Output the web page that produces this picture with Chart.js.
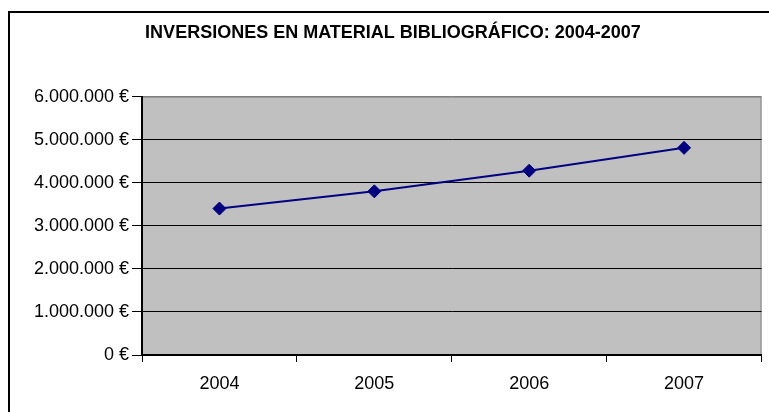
<!DOCTYPE html>
<html>
<head>
<meta charset="utf-8">
<script src="https://cdn.jsdelivr.net/npm/chart.js@4.4.1/dist/chart.umd.min.js"></script>
<style>
    html, body { margin: 0; padding: 0; background: #fff; overflow: hidden; }
    #frame { position: absolute; left: 8px; top: 11px; width: 820px; height: 460px; border: 2px solid #000; box-sizing: border-box; }
    #wrap { position: absolute; left: 0; top: 0; width: 769px; height: 412px; }
</style>
</head>
<body>
<div id="frame"></div>
<div id="wrap"><canvas id="myChart" width="769" height="412"></canvas></div>
<script>
const years = ['2004', '2005', '2006', '2007'];
const inversiones = [3400000, 3800000, 4280000, 4810000];
const yTickValues = [0, 1000000, 2000000, 3000000, 4000000, 5000000, 6000000];

const FONT = 'Liberation Sans, Arial, sans-serif';

// thousands with dots, euro sign after
function euros(v) {
    return String(v).replace(/\B(?=(\d{3})+(?!\d))/g, '.') + ' €';
}

const plotArea = {
    id: 'plotArea',
    beforeDraw(chart) {
        const { ctx, chartArea: a } = chart;
        ctx.save();
        ctx.fillStyle = '#c0c0c0';
        ctx.fillRect(a.left, a.top, a.right - a.left, a.bottom - a.top);
        ctx.strokeStyle = '#808080';
        ctx.lineWidth = 1;
        ctx.strokeRect(a.left + 0.5, a.top + 0.5, a.right - a.left - 1, a.bottom - a.top - 1);
        ctx.restore();
    }
};

const ctx = document.getElementById('myChart').getContext('2d');

const myChart = new Chart(ctx, { //eslint-disable-line
    type: 'line',
    data: {
        labels: years,
        datasets: [
            {
                label: 'Inversiones',
                data: inversiones,
                borderColor: '#000080',
                backgroundColor: '#000080',
                borderWidth: 2,
                pointStyle: 'rectRot',
                pointRadius: 6.5,
                pointBackgroundColor: '#000080',
                pointBorderColor: '#000080',
                pointBorderWidth: 1,
                tension: 0,
                clip: false
            }
        ]
    },
    options: {
        responsive: false,
        devicePixelRatio: 1,
        animation: false,
        layout: { padding: { left: 23, right: 6, top: 0, bottom: 0 } },
        plugins: {
            legend: { display: false },
            tooltip: { enabled: false },
            title: {
                display: true,
                text: 'INVERSIONES EN MATERIAL BIBLIOGRÁFICO: 2004-2007',
                color: '#000',
                font: { family: FONT, size: 18, weight: 'bold' },
                padding: { top: 22, bottom: 53 }
            }
        },
        scales: {
            x: {
                offset: true,
                grid: {
                    offset: true,
                    drawOnChartArea: false,
                    tickLength: 7,
                    tickColor: '#000',
                    color: '#000'
                },
                border: { color: '#000', width: 2 },
                ticks: {
                    color: '#000',
                    padding: 11,
                    font: { family: FONT, size: 18 }
                },
                afterFit(scale) { scale.height = 57; }
            },
            y: {
                min: 0,
                max: 6000000,
                afterBuildTicks(scale) {
                    scale.ticks = yTickValues.map(v => ({ value: v }));
                },
                grid: {
                    color: c => (c.tick && c.tick.value === 6000000 ? '#808080' : '#000'),
                    lineWidth: 1,
                    tickLength: 10,
                    tickColor: '#000'
                },
                border: { color: '#000', width: 2 },
                ticks: {
                    color: '#000',
                    padding: 3,
                    font: { family: FONT, size: 18 },
                    callback: v => euros(v)
                },
                afterFit(scale) { scale.width = 119; }
            }
        }
    },
    plugins: [plotArea]
});
</script>
</body>
</html>
